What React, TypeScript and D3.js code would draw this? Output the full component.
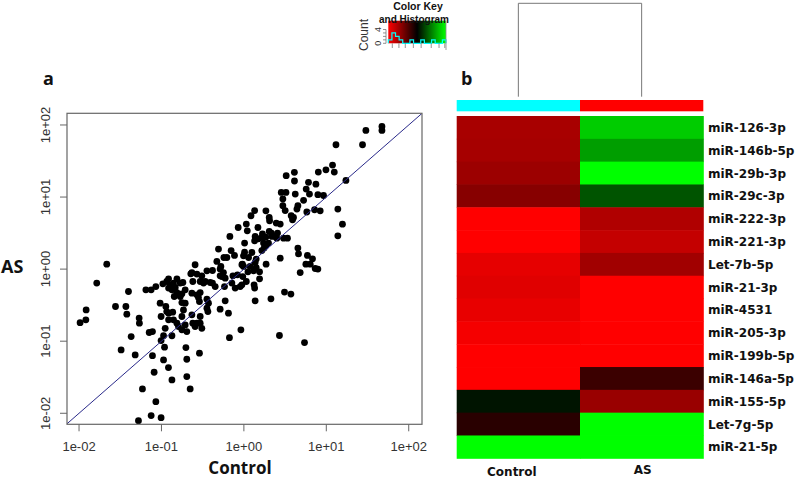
import React from "react";
import * as d3 from "d3";

// ---- Scatter data (panel a): Control vs AS expression ----
const controlValues: number[] = [
  47.3, 47.3, 30.2, 13.1, 27.5, 17.3, 11.9, 12.5, 9.9, 8.0, 4.1, 3.26, 6.08, 4.11, 7.48, 5.7, 6.25, 7.9, 9.25, 2.84,
  3.24, 4.2, 2.97, 5.3, 4.52, 2.97, 3.17, 4.4, 7.2, 8.43, 13.8, 5.8, 15.7, 13.8, 3.75, 4.0, 3.89,
  1.35, 1.22, 1.85, 2.03, 2.05, 2.47, 2.76, 1.07, 0.853, 1.48, 1.1, 1.68, 2.16, 2.56, 1.37, 1.85, 2.19, 2.42, 0.676,
  3.03, 3.38, 1.35, 1.73, 1.99, 1.02, 0.492, 0.70, 1.02, 1.25, 0.769, 0.572, 0.622, 0.99, 1.14, 1.41, 1.65, 1.76, 1.85,
  0.47, 1.37, 1.86, 0.96, 0.99, 2.76, 4.52, 4.6, 5.9, 6.8, 5.65, 6.38, 7.33, 7.9, 4.82, 0.0217, 0.256, 0.515, 0.565,
  0.356, 0.416, 0.234, 0.269, 0.309, 0.736, 0.97, 1.12, 1.31, 1.55, 1.41, 0.122, 0.154, 1.55,
  1.5, 1.65, 2.51, 2.03,
  0.0164, 0.0103, 0.0121, 0.0122, 0.0277, 0.037, 0.038, 0.0398, 0.0536, 0.054, 0.0429, 0.071, 0.0778, 0.0324, 0.048,
  0.0647, 0.075, 0.0855, 0.0778, 0.099, 0.0964, 0.109, 0.106, 0.0815, 0.1216, 0.134, 0.0588, 0.0855, 0.075, 0.099,
  0.0526, 0.198, 0.203, 0.203, 0.223, 0.289, 0.668, 0.92, 2.7, 5.44, 2.13, 3.11, 3.72,
  0.104, 0.116, 0.128, 0.14, 0.122, 0.134, 0.147, 0.169, 0.182, 0.154, 0.177, 0.194, 0.169, 0.177, 0.194, 0.143,
  0.113, 0.116, 0.122, 0.137, 0.177, 0.122, 0.14, 0.154, 0.161, 0.194, 0.177, 0.203, 0.111, 0.106, 0.134, 0.099,
  0.24, 0.269, 0.295, 0.309, 0.295, 0.227, 0.24, 0.295, 0.339, 0.39, 0.269, 0.295, 0.281, 0.356, 0.372, 0.356, 0.366,
  0.449, 0.515, 0.593, 0.715, 0.946, 0.784, 1.33, 1.35, 1.37, 0.593, 0.515, 0.65,
  0.234, 0.289, 0.324, 0.416, 0.582, 0.902, 1.07, 0.836, 0.541, 0.526, 0.946, 1.19, 0.234, 0.256, 0.185,
];
const asValues: number[] = [
  95.5, 84, 84, 53.2, 53.2, 17, 27.8, 22.2, 23.9, 22.2, 22, 19.8, 16, 16.7, 15.1, 12.9, 11, 10.8, 10.5, 11.6,
  11.6, 11, 9.4, 9, 7.57, 7.57, 6.5, 6.8, 6.67, 6.45, 6.8, 6.2, 4.2, 2.9, 5.5, 5.2, 4.84,
  6.5, 5.5, 6.45, 5.2, 4.69, 4.35, 4.22, 4.22, 3.78, 3.78, 3.4, 3.09, 3.16, 3.16, 2.84, 2.78, 2.84, 2.84, 2.84,
  2.69, 2.69, 2.47, 2.3, 2.3, 2.3, 1.9, 1.81, 1.72, 1.7, 1.55, 1.45, 1.45, 1.53, 1.45, 1.38, 1.81, 1.96, 2.11,
  1.28, 1.24, 1.17, 1.17, 1.09, 1.42, 1.96, 1.63, 1.55, 1.39, 1.17, 1.17, 1.02, 1.0, 0.897, 1.17, 1.15, 1.0, 0.897,
  0.947, 0.957, 0.897, 0.853, 0.807, 0.807, 0.789, 0.917, 0.947, 0.917, 1.05, 0.733, 0.733, 0.733,
  2.63, 2.75, 2.69, 3.33,
  0.64, 0.181, 0.198, 0.272, 0.303, 0.303, 0.237, 0.489, 0.209, 0.178, 0.116, 0.132, 0.136, 0.0757, 0.0645,
  0.516, 0.516, 0.573, 0.063, 0.102, 0.337, 0.0826, 0.055, 0.0371, 0.043, 0.029, 0.0218, 0.0145, 0.0093, 0.0087,
  0.0079, 0.0815, 0.0562, 0.0323, 0.0218, 0.0681, 0.112, 0.1436, 0.12, 0.0957, 0.387, 0.48, 0.45,
  0.625, 0.673, 0.605, 0.64, 0.545, 0.516, 0.556, 0.64, 0.652, 0.473, 0.454, 0.516, 0.417, 0.343, 0.337, 0.417,
  0.303, 0.258, 0.245, 0.253, 0.22, 0.198, 0.198, 0.178, 0.16, 0.168, 0.1436, 0.136, 0.151, 0.119, 0.119, 0.22,
  0.178, 0.178, 0.178, 0.151, 0.22, 0.86, 0.673, 0.673, 0.673, 0.652, 0.44, 0.473, 0.403, 0.383, 0.337, 0.287, 0.258,
  0.573, 0.807, 0.75, 0.64, 0.605, 0.545, 0.605, 0.545, 0.363, 0.363, 0.278, 0.245,
  0.464, 0.355, 0.64, 0.64, 0.573, 0.573, 0.673, 0.834, 0.789, 1.09, 1.15, 1.09, 0.232, 0.16, 0.272,
];
const logTicks: number[] = [1e-2, 1e-1, 1e0, 1e1, 1e2];
const logTickLabels: string[] = ["1e-02", "1e-01", "1e+00", "1e+01", "1e+02"];

// ---- Heatmap data (panel b) ----
const mirnas: string[] = [
  "miR-126-3p", "miR-146b-5p", "miR-29b-3p", "miR-29c-3p", "miR-222-3p", "miR-221-3p", "Let-7b-5p",
  "miR-21-3p", "miR-4531", "miR-205-3p", "miR-199b-5p", "miR-146a-5p", "miR-155-5p", "Let-7g-5p", "miR-21-5p",
];
const groups: string[] = ["Control", "AS"];
const groupColors: string[] = ["#00ffff", "#ff0000"];
const controlZ: number[] = [-0.66, -0.65, -0.61, -0.53, -1, -1, -0.9, -0.88, -0.91, -0.96, -1, -1, 0.08, -0.16, 1];
const asZ: number[] = [0.8, 0.62, 1, 0.33, -0.69, -0.77, -0.63, -1, -1, -1, -1, -0.23, -0.6, 1, 1];
const keyHistCounts: number[] = [1, 3, 2, 1, 0, 0, 1, 0, 0, 1, 0, 0, 1, 0, 0, 1];
const keyTickValues: number[] = [-1, -0.77, -0.55, -0.27, 0, 0.35, 0.62, 0.82];

const FONT_SANS = "'Liberation Sans', Arial, sans-serif";
const FONT_BOLD_LABEL = "'Open Sans', 'DejaVu Sans', sans-serif";
const FONT_VERDANA = "'DejaVu Sans', Verdana, sans-serif";

export default function App() {
  // scatter scales
  const x = d3.scaleLog().domain([Math.pow(10, -2.146), Math.pow(10, 2.161)]).range([67, 422]);
  const y = d3.scaleLog().domain([Math.pow(10, -2.153), Math.pow(10, 2.162)]).range([424.3, 113.3]);
  const [x0, x1] = x.range();
  const [y0, y1] = y.range();
  const lineDomain = [Math.pow(10, -2.3), Math.pow(10, 2.3)];

  // heatmap scales
  const col = d3.scaleBand<string>().domain(groups).range([456.7, 703.3]).padding(0);
  const row = d3.scaleBand<string>().domain(mirnas).range([116, 458.3]).padding(0);
  const color = d3.scaleLinear<string>().domain([-1, 0, 1]).range(["#ff0000", "#000000", "#00ff00"]);
  const zByGroup = [controlZ, asZ];

  // colour key
  const keyX = d3.scaleLinear().domain([-1, 1]).range([388.3, 446]);
  const keyY = d3.scaleLinear().domain([0, 4]).range([43.3, 29.5]);
  const gradStops = d3.range(0, 1.0001, 0.1);
  const binW = (keyX.range()[1] - keyX.range()[0]) / keyHistCounts.length;
  let histPath = `M${keyX.range()[0]},${keyY(0)}`;
  keyHistCounts.forEach((c, i) => {
    const xa = keyX.range()[0] + i * binW;
    histPath += ` L${xa},${keyY(c)} L${xa + binW},${keyY(c)}`;
  });
  histPath += ` L${keyX.range()[1]},${keyY(0)}`;

  const colCenters = groups.map((g) => (col(g) as number) + col.bandwidth() / 2);

  return (
    <svg
      width={797}
      height={479}
      style={{ position: "absolute", left: 0, top: 0, background: "#fff" }}
      xmlns="http://www.w3.org/2000/svg"
    >
      <defs>
        <clipPath id="plotClip">
          <rect x={x0} y={y1} width={x1 - x0} height={y0 - y1} />
        </clipPath>
        <linearGradient id="keyGrad" x1="0" x2="1" y1="0" y2="0">
          {gradStops.map((t) => (
            <stop key={t} offset={`${t * 100}%`} stopColor={color(-1 + 2 * t)} />
          ))}
        </linearGradient>
      </defs>

      {/* ---------- Panel a ---------- */}
      <text x={43} y={85} fontFamily={FONT_BOLD_LABEL} fontWeight="bold" fontSize={18} fill="#111">a</text>
      {controlValues.map((c, i) => (
        <circle key={i} cx={x(c)} cy={y(asValues[i])} r={3.4} fill="#000" />
      ))}
      <g clipPath="url(#plotClip)">
        <line
          x1={x(lineDomain[0])}
          y1={y(lineDomain[0])}
          x2={x(lineDomain[1])}
          y2={y(lineDomain[1])}
          stroke="#2a2a8a"
          strokeWidth={1}
        />
      </g>
      <rect x={x0} y={y1} width={x1 - x0} height={y0 - y1} fill="none" stroke="#666" strokeWidth={1.2} />
      {logTicks.map((t, i) => (
        <g key={`xt${i}`}>
          <line x1={x(t)} x2={x(t)} y1={y0} y2={y0 + 7} stroke="#666" strokeWidth={1} />
          <text x={x(t)} y={451} textAnchor="middle" fontFamily={FONT_SANS} fontSize={13} fill="#333">
            {logTickLabels[i]}
          </text>
        </g>
      ))}
      {logTicks.map((t, i) => (
        <g key={`yt${i}`}>
          <line x1={x0 - 7} x2={x0} y1={y(t)} y2={y(t)} stroke="#666" strokeWidth={1} />
          <text
            transform={`translate(50,${y(t)}) rotate(-90)`}
            textAnchor="middle"
            fontFamily={FONT_SANS}
            fontSize={13}
            fill="#333"
          >
            {logTickLabels[i]}
          </text>
        </g>
      ))}
      <text x={240} y={474} textAnchor="middle" fontFamily={FONT_BOLD_LABEL} fontWeight="bold" fontSize={17} fill="#111">
        Control
      </text>
      <text x={1} y={273} fontFamily={FONT_BOLD_LABEL} fontWeight="bold" fontSize={18} fill="#111">AS</text>

      {/* ---------- Colour key ---------- */}
      <text x={418} y={10} textAnchor="middle" fontFamily={FONT_SANS} fontWeight="bold" fontSize={10.5} fill="#111">
        Color Key
      </text>
      <rect x={keyX.range()[0]} y={20.7} width={keyX.range()[1] - keyX.range()[0]} height={22.6} fill="url(#keyGrad)" />
      <text x={414} y={22.5} textAnchor="middle" fontFamily={FONT_SANS} fontWeight="bold" fontSize={10} fill="#111">
        and Histogram
      </text>
      <path d={histPath} fill="none" stroke="#00ffff" strokeWidth={1.2} />
      <line x1={386} x2={386} y1={keyY(0)} y2={keyY(4)} stroke="#777" strokeWidth={0.8} />
      {[0, 1, 2, 3, 4].map((c) => (
        <line key={`kc${c}`} x1={383} x2={386} y1={keyY(c)} y2={keyY(c)} stroke="#777" strokeWidth={0.8} />
      ))}
      {[0, 4].map((c) => (
        <text
          key={`kl${c}`}
          transform={`translate(381,${keyY(c)}) rotate(-90)`}
          textAnchor="middle"
          fontFamily={FONT_SANS}
          fontSize={9}
          fill="#333"
        >
          {c}
        </text>
      ))}
      <text
        transform={`translate(368,${35}) rotate(-90)`}
        textAnchor="middle"
        fontFamily={FONT_SANS}
        fontSize={12}
        fill="#333"
      >
        Count
      </text>
      {keyTickValues.map((v, i) => (
        <line key={`kt${i}`} x1={keyX(v) + 4} x2={keyX(v) + 4} y1={43.3} y2={48} stroke="#777" strokeWidth={0.8} />
      ))}
      <line x1={keyX(1)} x2={keyX(1)} y1={20.7} y2={50} stroke="#888" strokeWidth={0.8} />

      {/* ---------- Panel b ---------- */}
      <text x={461} y={85} fontFamily={FONT_BOLD_LABEL} fontWeight="bold" fontSize={18} fill="#111">b</text>
      {/* dendrogram */}
      <path
        d={`M${colCenters[0]},96.7 L${colCenters[0]},3.3 L${colCenters[1]},3.3 L${colCenters[1]},96.7`}
        fill="none"
        stroke="#777"
        strokeWidth={1}
      />
      {/* column side colours */}
      {groups.map((g, i) => (
        <rect key={`sc${g}`} x={col(g)} y={100} width={col.bandwidth()} height={11.3} fill={groupColors[i]} />
      ))}
      {/* cells */}
      {groups.map((g, gi) =>
        mirnas.map((m, ri) => (
          <rect
            key={`${g}-${m}`}
            x={col(g)}
            y={row(m)}
            width={col.bandwidth() + 0.5}
            height={row.bandwidth() + 0.5}
            fill={color(zByGroup[gi][ri])}
          />
        ))
      )}
      {mirnas.map((m) => (
        <text
          key={`rl${m}`}
          x={708}
          y={(row(m) as number) + row.bandwidth() / 2 + 4.5}
          fontFamily={FONT_VERDANA}
          fontWeight="bold"
          fontSize={12}
          fill="#111"
        >
          {m}
        </text>
      ))}
      <text x={colCenters[0] - 6.5} y={476} textAnchor="middle" fontFamily={FONT_VERDANA} fontWeight="bold" fontSize={12} fill="#111">
        {groups[0]}
      </text>
      <text x={colCenters[1] + 1} y={474} textAnchor="middle" fontFamily={FONT_VERDANA} fontWeight="bold" fontSize={12} fill="#111">
        {groups[1]}
      </text>
    </svg>
  );
}
